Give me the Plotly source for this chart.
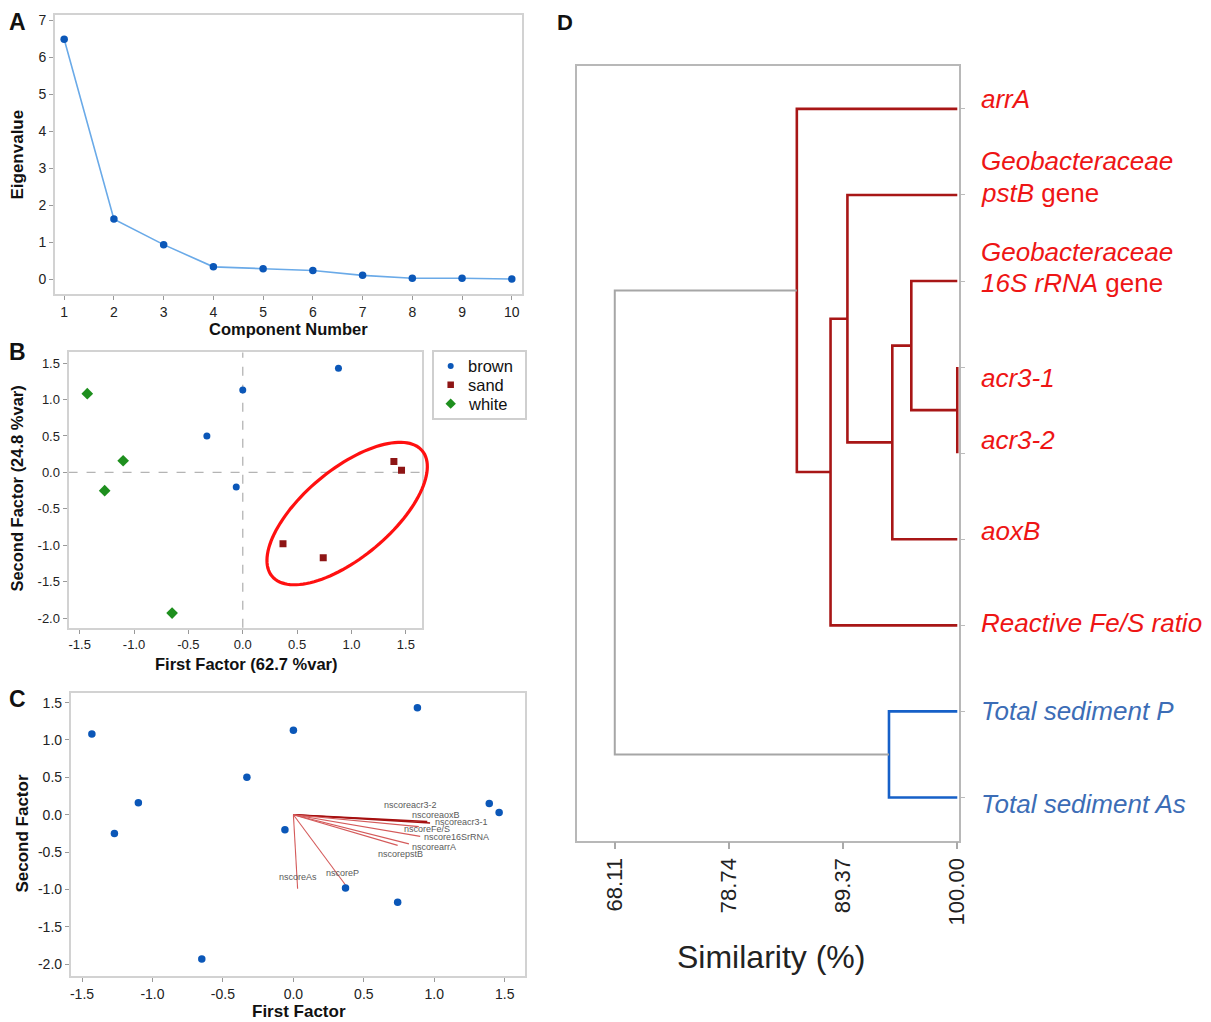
import numpy as np
import plotly.graph_objects as go

W, H = 1211, 1022
W_EFF = 1199.5   # measured horizontal extent of the photographed figure
FONT = "Liberation Sans, Arial, sans-serif"

# ---------------- data ----------------
# Panel A: scree plot
COMPONENTS = list(range(1, 11))
EIGENVALUES = [6.48, 1.62, 0.93, 0.33, 0.28, 0.23, 0.10, 0.02, 0.02, 0.00]

# Panel B / C: factor scores
BROWN_X = [0.88, 0.00, -0.33, -0.06]
BROWN_Y = [1.43, 1.13, 0.50, -0.20]
SAND_X = [1.39, 1.46, 0.37, 0.74]
SAND_Y = [0.15, 0.03, -0.98, -1.17]
WHITE_X = [-1.43, -1.10, -1.27, -0.65]
WHITE_Y = [1.08, 0.16, -0.25, -1.93]
GROUPS = ["brown", "sand", "white"]

# Panel C: loadings (biplot vectors)
LOAD_NAMES = ["nscoreacr3-2", "nscoreaoxB", "nscoreacr3-1", "nscoreFe/S",
              "nscore16SrRNA", "nscorearrA", "nscorepstB", "nscoreP", "nscoreAs"]
LOAD_X = [0.79, 0.95, 0.97, 0.89, 0.90, 0.82, 0.74, 0.37, 0.03]
LOAD_Y = [-0.08, -0.09, -0.11, -0.16, -0.29, -0.39, -0.41, -0.94, -0.99]

# Panel D: dendrogram
LEAF_NAMES = ["arrA", "Geobacteraceae pstB gene", "Geobacteraceae 16S rRNA gene",
              "acr3-1", "acr3-2", "aoxB", "Reactive Fe/S ratio",
              "Total sediment P", "Total sediment As"]
# (child a, child b, similarity %) ; new node ids start at len(LEAF_NAMES)
MERGES = [(3, 4, 100.0), (2, 9, 95.72), (10, 5, 93.95), (1, 11, 89.77),
          (12, 6, 88.20), (0, 13, 85.06), (7, 8, 93.64), (14, 15, 68.11)]
SIM_TICKS = [68.11, 78.74, 89.37, 100.00]

# ---------------- style / layout ----------------
def px2dom_x(a, b):
    return [a / W_EFF, b / W_EFF]

def px2dom_y(top, bottom):
    return [1 - bottom / H, 1 - top / H]

DOM_A = (px2dom_x(54.1, 521.7), px2dom_y(12.3, 291.7))
DOM_B = (px2dom_x(67.6, 420.7), px2dom_y(350.5, 626.5))
DOM_C = (px2dom_x(69.9, 524), px2dom_y(691.7, 975.7))
DOM_D = (px2dom_x(576, 958.3), px2dom_y(63, 840))
DOM_L = (px2dom_x(432.7, 524), px2dom_y(350, 416))   # legend box of panel B

RANGE_A = ([0.817, 10.215], [-0.40, 7.13])
RANGE_B = ([-1.602, 1.644], [-2.13, 1.646])
RANGE_C = ([-1.579, 1.642], [-2.156, 1.633])
RANGE_D = ([64.57, 100.15], [8.5, -0.5])

BOX = "#d2d2d2"
TICKC = "#222222"
BLUE = "#0b57b8"
DARKRED = "#8e1515"
GREEN = "#1e8f1e"

fig = go.Figure()

# Panel A
fig.add_trace(go.Scatter(x=COMPONENTS, y=EIGENVALUES, mode="lines+markers",
                         line=dict(color="#6aaae8", width=1.6),
                         marker=dict(color=BLUE, size=7.5, symbol="circle"),
                         xaxis="x", yaxis="y", showlegend=False))

# Panel B (+ its legend drawn in a small inset)
GROUP_STYLE = [("brown", BROWN_X, BROWN_Y, BLUE, "circle", 7, 6),
               ("sand", SAND_X, SAND_Y, DARKRED, "square", 7, 6.5),
               ("white", WHITE_X, WHITE_Y, GREEN, "diamond", 9, 8)]
annotations = []
for k, (name, xs, ys, col, sym, sz, lsz) in enumerate(GROUP_STYLE):
    fig.add_trace(go.Scatter(x=xs, y=ys, mode="markers", name=name,
                             marker=dict(color=col, size=sz, symbol=sym),
                             xaxis="x2", yaxis="y2", showlegend=False))
    fig.add_trace(go.Scatter(x=[0], y=[k], mode="markers", name=name,
                             marker=dict(color=col, size=lsz, symbol=sym),
                             xaxis="x5", yaxis="y5", showlegend=False, hoverinfo="skip"))
    annotations.append(dict(x=0, y=k, xref="x5", yref="y5", text=name, showarrow=False,
                            xanchor="left", yanchor="middle", xshift=15,
                            font=dict(family=FONT, size=16.5, color="#111")))

# Panel C: vectors
for i, (lx, ly) in enumerate(zip(LOAD_X, LOAD_Y)):
    dark = LOAD_NAMES[i] in ("nscoreaoxB", "nscoreacr3-1")
    fig.add_trace(go.Scatter(x=[0, lx], y=[0, ly], mode="lines",
                             line=dict(color="#a51010" if dark else "#d45a5a",
                                       width=1.6 if dark else 1.1),
                             xaxis="x3", yaxis="y3", showlegend=False, hoverinfo="skip"))
all_x = BROWN_X + SAND_X + WHITE_X
all_y = BROWN_Y + SAND_Y + WHITE_Y
fig.add_trace(go.Scatter(x=all_x, y=all_y, mode="markers",
                         marker=dict(color=BLUE, size=7.5, symbol="circle"),
                         xaxis="x3", yaxis="y3", showlegend=False))

# label offsets from vector tips (data units)
LABEL_DX = [0.04, 0.06, 0.22, 0.06, 0.26, 0.18, 0.02, -0.02, 0.00]
LABEL_DY = [0.205, 0.09, 0.01, -0.035, -0.015, -0.04, -0.12, 0.16, 0.15]
for n, lx, ly, dx, dy in zip(LOAD_NAMES, LOAD_X, LOAD_Y, LABEL_DX, LABEL_DY):
    annotations.append(dict(x=lx + dx, y=ly + dy, xref="x3", yref="y3", text=n,
                            showarrow=False, font=dict(family=FONT, size=9, color="#5a5a5a"),
                            xanchor="center", yanchor="middle"))

# Panel D: dendrogram
n_leaf = len(LEAF_NAMES)
node_x = {i: 100.0 for i in range(n_leaf)}
node_y = {i: float(i) for i in range(n_leaf)}
LINK_COLORS = ["#a81616"] * 6 + ["#1660c8", "#a6a6a6"]
LINK_WIDTHS = [2.6] * 6 + [2.6, 2.0]
for k, (a, b, s) in enumerate(MERGES):
    nid = n_leaf + k
    fig.add_trace(go.Scatter(x=[node_x[a], s, s, node_x[b]],
                             y=[node_y[a], node_y[a], node_y[b], node_y[b]],
                             mode="lines", line=dict(color=LINK_COLORS[k], width=LINK_WIDTHS[k]),
                             xaxis="x4", yaxis="y4", showlegend=False, hoverinfo="skip"))
    node_x[nid] = s
    node_y[nid] = (node_y[a] + node_y[b]) / 2

RED_T = "#ee1515"
BLUE_T = "#3c6db6"
LEAF_TEXT = [
    [("<i>arrA</i>", 10)],
    [("<i>Geobacteraceae</i>", 34), ("<i>pstB</i> gene", 2)],
    [("<i>Geobacteraceae</i>", 29), ("<i>16S rRNA</i> gene", -2)],
    [("<i>acr3-1</i>", -11)],
    [("<i>acr3-2</i>", 13)],
    [("<i>aoxB</i>", 8)],
    [("<i>Reactive Fe/S ratio</i>", 2)],
    [("<i>Total sediment P</i>", 0)],
    [("<i>Total sediment As</i>", -7)],
]
for i, lines in enumerate(LEAF_TEXT):
    col = BLUE_T if i >= 7 else RED_T
    for txt, ys in lines:
        annotations.append(dict(x=100, y=i, xref="x4", yref="y4", text=txt, showarrow=False,
                                xanchor="left", yanchor="middle", xshift=22, yshift=ys,
                                font=dict(family=FONT, size=26, color=col)))

# Panel B: red ellipse (drawn in paper coords so it may cross the frame)
def to_paper(xd, yd, dom, rng):
    (xdom, ydom), (xr, yr) = dom, rng
    xp = xdom[0] + (xd - xr[0]) / (xr[1] - xr[0]) * (xdom[1] - xdom[0])
    yp = ydom[0] + (yd - yr[0]) / (yr[1] - yr[0]) * (ydom[1] - ydom[0])
    return xp, yp

px_per_x = (DOM_B[0][1] - DOM_B[0][0]) * W_EFF / (RANGE_B[0][1] - RANGE_B[0][0])
px_per_y = (DOM_B[1][1] - DOM_B[1][0]) * H / (RANGE_B[1][1] - RANGE_B[1][0])
E_CX, E_CY, E_A, E_B, E_ANG = 0.96, -0.564, 98.0, 44.0, np.deg2rad(40)
t = np.linspace(0, 2 * np.pi, 121)
ex = E_A * np.cos(t) * np.cos(E_ANG) - E_B * np.sin(t) * np.sin(E_ANG)
ey = E_A * np.cos(t) * np.sin(E_ANG) + E_B * np.sin(t) * np.cos(E_ANG)
xp, yp = to_paper(E_CX + ex / px_per_x, E_CY + ey / px_per_y, DOM_B, RANGE_B)
path = "M " + " L ".join(f"{a:.5f},{b:.5f}" for a, b in zip(xp, yp)) + " Z"

shapes = [
    dict(type="path", path=path, xref="paper", yref="paper",
         line=dict(color="#ff1010", width=3.2)),
    dict(type="line", x0=0, x1=0, y0=0, y1=1, xref="x2", yref="y2 domain",
         line=dict(color="#b4b4b4", width=1.3, dash="dash"), layer="below"),
    dict(type="line", x0=0, x1=1, y0=0, y1=0, xref="x2 domain", yref="y2",
         line=dict(color="#b4b4b4", width=1.3, dash="dash"), layer="below"),
]

# Axis titles & panel letters
def ann(x, y, text, size, bold=True, angle=0, color="#111"):
    return dict(x=x / W_EFF, y=1 - y / H, xref="paper", yref="paper", text=text,
                showarrow=False, textangle=angle, xanchor="center", yanchor="middle",
                font=dict(family=FONT, size=size, color=color,
                          weight="bold" if bold else "normal"))

annotations += [
    ann(17, 19, "A", 23), ann(17, 350, "B", 23), ann(17, 698, "C", 23), ann(564, 20, "D", 22),
    ann(17, 152, "Eigenvalue", 17, angle=-90),
    ann(288, 327, "Component Number", 16.5),
    ann(16, 487, "Second Factor (24.8 %var)", 16.5, angle=-90),
    ann(245, 663, "First Factor (62.7 %var)", 16.5),
    ann(22, 833, "Second Factor", 17, angle=-90),
    ann(298, 1011, "First Factor", 17),
    ann(770, 957, "Similarity (%)", 32, bold=False, color="#222"),
]

def std_axis(dom, rng, anchor, tickvals, fmt, size):
    return dict(domain=dom, range=rng, anchor=anchor, showgrid=False, zeroline=False,
                showline=True, mirror=True, linecolor=BOX, linewidth=2,
                ticks="outside", ticklen=4, tickcolor="#999", tickwidth=1,
                tickvals=tickvals, ticktext=[fmt.format(v) for v in tickvals],
                tickfont=dict(family=FONT, size=size, color=TICKC))

half = [-1.5, -1.0, -0.5, 0.0, 0.5, 1.0, 1.5]
halfy = [-2.0, -1.5, -1.0, -0.5, 0.0, 0.5, 1.0, 1.5]

layout = dict(
    width=W, height=H, margin=dict(l=0, r=0, t=0, b=0), autosize=False,
    paper_bgcolor="white", plot_bgcolor="white",
    xaxis=std_axis(DOM_A[0], RANGE_A[0], "y", COMPONENTS, "{:d}", 14),
    yaxis=std_axis(DOM_A[1], RANGE_A[1], "x", list(range(0, 8)), "{:d}", 14),
    xaxis2=std_axis(DOM_B[0], RANGE_B[0], "y2", half, "{:.1f}", 13),
    yaxis2=std_axis(DOM_B[1], RANGE_B[1], "x2", halfy, "{:.1f}", 13),
    xaxis3=std_axis(DOM_C[0], RANGE_C[0], "y3", half, "{:.1f}", 14),
    yaxis3=std_axis(DOM_C[1], RANGE_C[1], "x3", halfy, "{:.1f}", 14),
    xaxis4=dict(domain=DOM_D[0], range=RANGE_D[0], anchor="y4", showgrid=False, zeroline=False,
                showline=True, mirror=True, linecolor="#b8b8b8", linewidth=1.6,
                ticks="outside", ticklen=7, tickcolor="#aaa", tickwidth=1.5,
                tickvals=SIM_TICKS, ticktext=[f"{v:.2f}" for v in SIM_TICKS], tickangle=-90,
                tickfont=dict(family=FONT, size=22, color="#222")),
    yaxis4=dict(domain=DOM_D[1], range=RANGE_D[1], anchor="x4", side="right",
                showgrid=False, zeroline=False, showline=True, mirror=True,
                linecolor="#b8b8b8", linewidth=1.6, ticks="outside", ticklen=4,
                tickcolor="#bbb", tickvals=list(range(n_leaf)), showticklabels=False),
    xaxis5=dict(domain=DOM_L[0], range=[-0.95, 4.1], anchor="y5", visible=True,
                showgrid=False, zeroline=False, showticklabels=False, ticks="",
                showline=True, mirror=True, linecolor="#cfcfcf", linewidth=1.6, fixedrange=True),
    yaxis5=dict(domain=DOM_L[1], range=[2.75, -0.75], anchor="x5", visible=True,
                showgrid=False, zeroline=False, showticklabels=False, ticks="",
                showline=True, mirror=True, linecolor="#cfcfcf", linewidth=1.6, fixedrange=True),
    annotations=annotations, shapes=shapes, showlegend=False,
)
fig.update_layout(**layout)
fig.write_html("out.html", config={"responsive": False})
